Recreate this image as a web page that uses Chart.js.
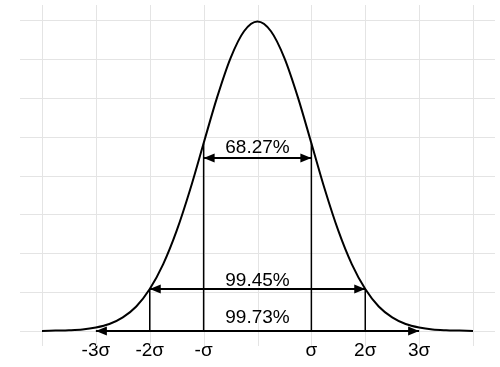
<!DOCTYPE html>
<html>
<head>
<meta charset="utf-8">
<script src="https://cdn.jsdelivr.net/npm/chart.js@4/dist/chart.umd.min.js"></script>
<style>
  html, body { margin: 0; padding: 0; background: #fff; }
</style>
</head>
<body>
<canvas id="normalChart" width="500" height="367"></canvas>
<script>
// x in units of sigma, y in grid units
const xValues = [-4, -3.75, -3.5, -3.25, -3, -2.75, -2.5, -2.25, -2, -1.75, -1.5, -1.25, -1, -0.75, -0.5, -0.25,
    0, 0.25, 0.5, 0.75, 1, 1.25, 1.5, 1.75, 2, 2.25, 2.5, 2.75, 3, 3.25, 3.5, 3.75, 4];
const curveValues = [0.00, 0.01, 0.02, 0.04, 0.09, 0.18, 0.35, 0.63, 1.08, 1.72, 2.58, 3.64, 4.83, 6.01, 7.02, 7.71,
    7.96, 7.71, 7.02, 6.01, 4.83, 3.64, 2.58, 1.72, 1.08, 0.63, 0.35, 0.18, 0.09, 0.04, 0.02, 0.01, 0.00];

const sigmaLines = [-2, -1, 1, 2];
const sigmaHeights = [1.08, 4.83, 4.83, 1.08];

const rangeLabels = ['68.27%', '99.45%', '99.73%'];
const rangeHalfWidths = [1, 2, 3];
const rangeLevels = [4.45, 1.08, 0];

const tickValues = [-4, -3, -2, -1, 0, 1, 2, 3, 4];
const tickLabels = ['', '-3σ', '-2σ', '-σ', '', 'σ', '2σ', '3σ', ''];
const gridYValues = [0, 1, 2, 3, 4, 5, 6, 7, 8];

const FONT = '"Liberation Sans", Arial, sans-serif';
const labelGaps = [10, 8, 13];

let datasets = [];

sigmaLines.forEach(function(s, i) {
    datasets.push({
        data: [{ x: s, y: 0 }, { x: s, y: sigmaHeights[i] }],
        borderColor: '#000',
        borderWidth: 1.5,
        pointRadius: 0,
        clip: false
    });
});

rangeHalfWidths.forEach(function(w, i) {
    datasets.push({
        data: [{ x: -w, y: rangeLevels[i] }, { x: w, y: rangeLevels[i] }],
        borderColor: '#000',
        borderWidth: 2,
        pointRadius: 0,
        clip: false,
        isArrow: true,
        arrowLabel: rangeLabels[i],
        labelGap: labelGaps[i]
    });
});

datasets.push({
    data: xValues.map(function(x, i) { return { x: x, y: curveValues[i] }; }),
    borderColor: '#000',
    borderWidth: 2,
    pointRadius: 0,
    cubicInterpolationMode: 'monotone',
    clip: false
});

// light grid that runs a bit past the plot area
const gridPlugin = {
    id: 'extendedGrid',
    beforeDatasetsDraw: function(chart) {
        const ctx = chart.ctx;
        const xs = chart.scales.x;
        const ys = chart.scales.y;
        const a = chart.chartArea;
        ctx.save();
        ctx.strokeStyle = '#e4e4e4';
        ctx.lineWidth = 1;
        gridYValues.forEach(function(v) {
            const y = Math.round(ys.getPixelForValue(v)) + 0.5;
            ctx.beginPath();
            ctx.moveTo(a.left - 22, y);
            ctx.lineTo(a.right + 22, y);
            ctx.stroke();
        });
        tickValues.forEach(function(v) {
            const x = Math.round(xs.getPixelForValue(v)) + 0.5;
            ctx.beginPath();
            ctx.moveTo(x, a.top - 15);
            ctx.lineTo(x, a.bottom + 15);
            ctx.stroke();
        });
        ctx.restore();
    }
};

// arrow heads and percentage labels
const arrowPlugin = {
    id: 'arrows',
    afterDatasetsDraw: function(chart) {
        const ctx = chart.ctx;
        ctx.save();
        chart.data.datasets.forEach(function(ds, i) {
            if (!ds.isArrow) return;
            const pts = chart.getDatasetMeta(i).data;
            const y = pts[0].y;
            [[pts[0].x, 1], [pts[1].x, -1]].forEach(function(p) {
                ctx.beginPath();
                ctx.moveTo(p[0], y);
                ctx.lineTo(p[0] + p[1] * 11, y - 4.5);
                ctx.lineTo(p[0] + p[1] * 11, y + 4.5);
                ctx.closePath();
                ctx.fillStyle = '#000';
                ctx.fill();
            });
            ctx.font = '19px ' + FONT;
            ctx.textAlign = 'center';
            ctx.textBaseline = 'middle';
            ctx.fillText(ds.arrowLabel, (pts[0].x + pts[1].x) / 2, y - ds.labelGap);
        });
        ctx.restore();
    }
};

let ctx = document.getElementById('normalChart').getContext('2d');

let normalChart = new Chart(ctx, {
    type: 'line',
    data: { datasets: datasets },
    options: {
        responsive: false,
        animation: false,
        layout: {
            padding: { left: 42, right: 27, top: 20, bottom: 0 }
        },
        plugins: {
            legend: { display: false },
            tooltip: { enabled: false }
        },
        scales: {
            x: {
                type: 'linear',
                min: -4,
                max: 4,
                afterBuildTicks: function(scale) {
                    scale.ticks = tickValues.map(function(v) { return { value: v }; });
                },
                afterFit: function(scale) {
                    scale.height = 36;
                },
                grid: { display: false },
                border: { display: false },
                ticks: {
                    autoSkip: false,
                    maxRotation: 0,
                    padding: 0,
                    color: '#000',
                    font: { family: FONT, size: 19 },
                    callback: function(value) {
                        let idx = tickValues.indexOf(value);
                        return idx >= 0 ? tickLabels[idx] : '';
                    }
                }
            },
            y: {
                type: 'linear',
                min: 0,
                max: 8,
                display: false
            }
        }
    },
    plugins: [gridPlugin, arrowPlugin]
});
</script>
</body>
</html>
